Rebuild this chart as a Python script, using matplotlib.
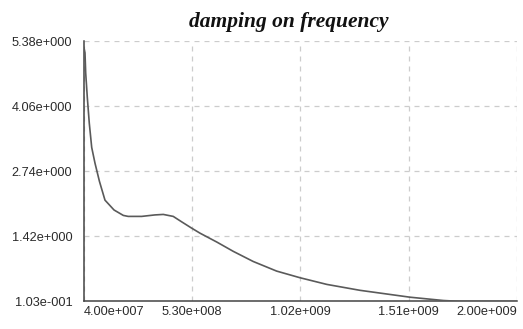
import numpy as np
import matplotlib
matplotlib.use('Agg')
import matplotlib.pyplot as plt
from matplotlib.ticker import FixedLocator, FuncFormatter

# damping values
freq = [4.0e7, 4.45e7, 4.77e7, 5.49e7, 6.40e7, 7.49e7, 8.98e7, 1.10e8, 1.35e8,
        1.76e8, 2.18e8, 2.40e8, 3.01e8, 3.61e8, 3.99e8, 4.44e8, 4.82e8, 5.28e8,
        5.65e8, 6.41e8, 7.16e8, 8.06e8, 9.12e8, 1.018e9, 1.139e9, 1.289e9,
        1.516e9, 1.667e9, 1.742e9, 1.891e9, 2.0e9]
damping = [5.25, 5.15, 4.74, 4.25, 3.72, 3.23, 2.91, 2.54, 2.16,
           1.96, 1.85, 1.83, 1.83, 1.86, 1.87, 1.83, 1.72, 1.59,
           1.49, 1.31, 1.12, 0.915, 0.72, 0.585, 0.45, 0.33,
           0.19, 0.123, 0.105, 0.103, 0.103]

x_min, x_max = 4.0e7, 2.0e9
y_min, y_max = 0.103, 5.38


def sci(v, pos=None):
    if v == 0:
        return '0.00e+000'
    e = int(np.floor(np.log10(abs(v))))
    m = v / 10 ** e
    if round(m, 2) >= 10:
        m /= 10
        e += 1
    sign = '+' if e >= 0 else '-'
    return '%.2fe%s%03d' % (m, sign, abs(e))


fig = plt.figure(figsize=(5.23, 3.29), dpi=100)
ax = fig.add_axes([0.1606, 0.0836, 0.8279, 0.7903])

ax.plot(freq, damping, color='#5a5a5a', linewidth=1.2, zorder=3)

ax.set_xlim(x_min, x_max)
ax.set_ylim(y_min, y_max)
ax.xaxis.set_major_locator(FixedLocator(np.linspace(x_min, x_max, 5)))
ax.yaxis.set_major_locator(FixedLocator(np.linspace(y_min, y_max, 5)))
ax.xaxis.set_major_formatter(FuncFormatter(sci))
ax.yaxis.set_major_formatter(FuncFormatter(sci))

ax.grid(True, color='#cccccc', linestyle=(0, (4, 4)), linewidth=0.9)
for s in ['top', 'right']:
    ax.spines[s].set_visible(False)
for s in ['left', 'bottom']:
    ax.spines[s].set_color('#444444')
    ax.spines[s].set_linewidth(1.1)

ax.tick_params(axis='both', length=0, labelsize=9.2, labelcolor='#2a2a2a')
ax.tick_params(axis='y', pad=8.5)
ax.tick_params(axis='x', pad=3.5)
for lab in ax.get_xticklabels() + ax.get_yticklabels():
    lab.set_family('Liberation Sans')
xl = ax.get_xticklabels()
xl[0].set_horizontalalignment('left')
xl[-1].set_horizontalalignment('right')

fig.text(289 / 523, 1 - 27 / 329, 'damping on frequency', family='Liberation Serif',
         style='italic', fontweight='bold', fontsize=15.5, ha='center', va='baseline',
         color='#111111')

fig.savefig('out.png', dpi=100, facecolor='white')
